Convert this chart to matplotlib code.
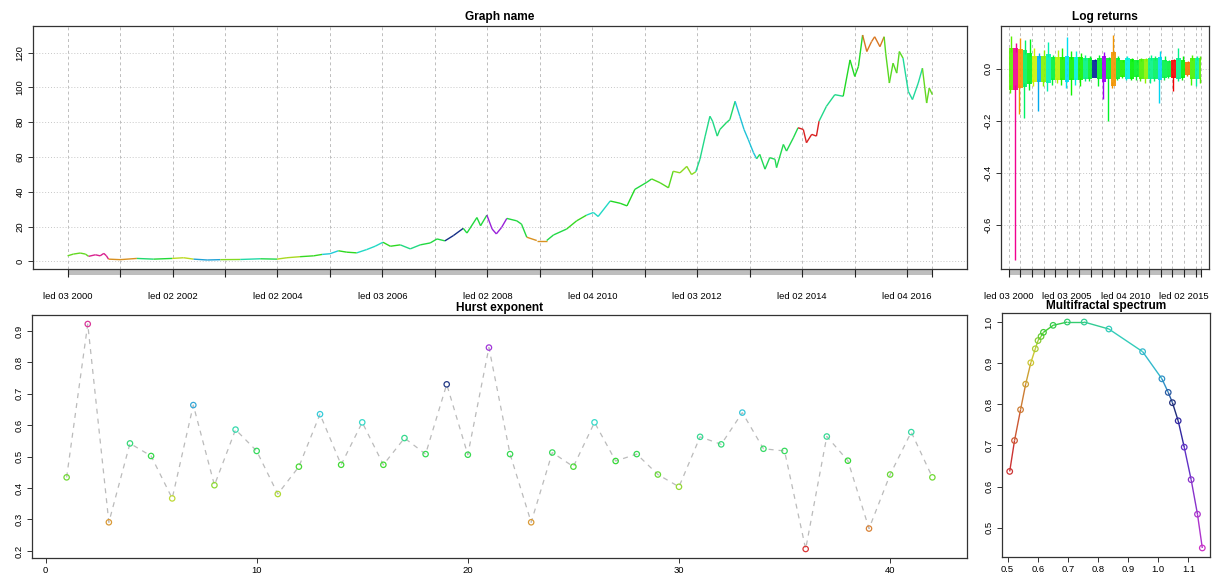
import matplotlib
matplotlib.use("Agg")
import matplotlib.pyplot as plt
import matplotlib.colors as mcolors
import matplotlib.transforms as mtransforms
from matplotlib.collections import LineCollection
import numpy as np

plt.rcParams["font.family"] = ["Liberation Sans", "DejaVu Sans"]

# price path (decimal years, price)
price_t = [2000.00, 2000.11, 2000.24, 2000.34, 2000.40, 2000.53, 2000.62, 2000.69, 2000.74, 2000.78,
           2001.00, 2001.32, 2001.64, 2001.99, 2002.21, 2002.40, 2002.66, 2002.91, 2003.29, 2003.67,
           2003.99, 2004.18, 2004.43, 2004.69, 2004.85, 2005.00, 2005.16, 2005.32, 2005.51, 2005.70,
           2005.86, 2006.01, 2006.15, 2006.34, 2006.53, 2006.72, 2006.91, 2007.04, 2007.19, 2007.35,
           2007.54, 2007.61, 2007.80, 2007.87, 2007.99, 2008.09, 2008.17, 2008.27, 2008.37, 2008.56,
           2008.65, 2008.75, 2008.94, 2009.13, 2009.26, 2009.51, 2009.70, 2009.89, 2010.02, 2010.11,
           2010.34, 2010.53, 2010.66, 2010.81, 2011.04, 2011.13, 2011.29, 2011.45, 2011.54, 2011.67,
           2011.80, 2011.89, 2011.97, 2012.05, 2012.15, 2012.24, 2012.29, 2012.38, 2012.43, 2012.55,
           2012.62, 2012.72, 2012.81, 2012.89, 2012.97, 2013.07, 2013.13, 2013.19, 2013.29, 2013.38,
           2013.48, 2013.51, 2013.64, 2013.70, 2013.83, 2013.92, 2014.02, 2014.08, 2014.18, 2014.27,
           2014.32, 2014.46, 2014.62, 2014.78, 2014.91, 2015.00, 2015.07, 2015.15, 2015.23, 2015.32,
           2015.38, 2015.48, 2015.56, 2015.59, 2015.66, 2015.73, 2015.80, 2015.85, 2015.92, 2016.02,
           2016.10, 2016.21, 2016.29, 2016.37, 2016.42, 2016.48]
price_v = [3.2, 4.2, 4.8, 4.2, 2.9, 3.8, 3.2, 4.6, 3.2, 1.3,
           1.0, 1.7, 1.3, 1.7, 2.1, 1.3, 0.8, 1.0, 1.1, 1.5,
           1.3, 2.1, 2.7, 3.2, 4.0, 4.4, 6.1, 5.3, 4.9, 6.8,
           8.7, 11.0, 8.7, 9.5, 7.2, 9.5, 10.6, 12.9, 11.8, 14.8,
           19.0, 16.3, 25.2, 20.5, 26.6, 18.6, 15.8, 19.5, 24.7, 23.3,
           21.4, 13.9, 12.0, 12.0, 15.2, 18.6, 23.3, 26.6, 28.1, 25.8,
           34.7, 33.4, 31.9, 41.4, 45.5, 47.4, 45.2, 42.3, 51.8, 50.9,
           54.6, 49.9, 51.5, 58.7, 72.0, 83.4, 80.6, 72.0, 75.8, 79.6,
           81.5, 92.0, 83.4, 75.8, 70.1, 62.5, 59.0, 61.5, 53.0, 59.6,
           58.7, 53.9, 67.2, 63.4, 71.0, 76.8, 75.8, 68.2, 73.0, 72.0,
           80.6, 89.1, 95.8, 94.9, 115.8, 106.3, 112.0, 130.1, 120.6, 126.3,
           129.1, 123.4, 129.1, 119.6, 102.5, 113.9, 108.2, 120.6, 116.8, 97.7,
           93.0, 102.5, 111.0, 91.0, 99.6, 95.8]

# hurst exponent per window (42 windows)
hurst = [0.434, 0.922, 0.291, 0.542, 0.502, 0.367, 0.664, 0.409, 0.586, 0.518,
         0.381, 0.468, 0.635, 0.474, 0.609, 0.474, 0.559, 0.508, 0.730, 0.506,
         0.847, 0.508, 0.291, 0.513, 0.468, 0.609, 0.486, 0.508, 0.443, 0.404,
         0.563, 0.539, 0.640, 0.525, 0.518, 0.206, 0.564, 0.487, 0.271, 0.443,
         0.578, 0.434]

# log returns per window: extremes and the dense core half-width
ret_hi = [0.126, 0.098, 0.117, 0.110, 0.113, 0.079, 0.060, 0.072, 0.104, 0.053,
          0.072, 0.079, 0.123, 0.066, 0.066, 0.060, 0.053, 0.047, 0.037, 0.053,
          0.062, 0.044, 0.129, 0.047, 0.034, 0.047, 0.041, 0.034, 0.041, 0.041,
          0.053, 0.047, 0.066, 0.047, 0.034, 0.037, 0.079, 0.047, 0.028, 0.053,
          0.047, 0.047]
ret_lo = [-0.093, -0.733, -0.175, -0.188, -0.080, -0.067, -0.162, -0.067, -0.086, -0.061,
          -0.055, -0.061, -0.074, -0.099, -0.061, -0.067, -0.048, -0.048, -0.029, -0.067,
          -0.118, -0.200, -0.074, -0.042, -0.036, -0.042, -0.042, -0.042, -0.048, -0.055,
          -0.055, -0.048, -0.131, -0.042, -0.036, -0.086, -0.048, -0.042, -0.029, -0.061,
          -0.067, -0.055]
ret_core = [0.080, 0.080, 0.075, 0.070, 0.060, 0.050, 0.050, 0.050, 0.055, 0.045,
            0.045, 0.045, 0.050, 0.045, 0.045, 0.045, 0.040, 0.040, 0.035, 0.040,
            0.050, 0.040, 0.065, 0.040, 0.032, 0.040, 0.038, 0.032, 0.038, 0.038,
            0.040, 0.040, 0.045, 0.035, 0.030, 0.035, 0.040, 0.035, 0.025, 0.040,
            0.040, 0.040]

# multifractal spectrum
mf_alpha = [0.507, 0.523, 0.543, 0.560, 0.577, 0.592, 0.601, 0.611, 0.619, 0.651, 0.698,
            0.754, 0.836, 0.948, 1.012, 1.033, 1.047, 1.066, 1.086, 1.109, 1.130, 1.146]
mf_f = [0.637, 0.712, 0.787, 0.849, 0.901, 0.935, 0.955, 0.965, 0.975, 0.992, 1.000,
        1.000, 0.983, 0.928, 0.862, 0.829, 0.804, 0.760, 0.696, 0.617, 0.533, 0.451]

date_start, date_end = 2000.0, 2016.48
window_years = 0.398  # length of one hurst window, last one is cut by the data end
tick_years = list(range(2000, 2017))
price_labels = {2000: "led 03 2000", 2002: "led 02 2002", 2004: "led 02 2004", 2006: "led 03 2006",
                2008: "led 02 2008", 2010: "led 04 2010", 2012: "led 03 2012", 2014: "led 02 2014",
                2016: "led 04 2016"}
ret_labels = {2000: "led 03 2000", 2005: "led 03 2005", 2010: "led 04 2010", 2015: "led 02 2015"}

TICK_FS = 6.8
TITLE_FS = 8.6
BOX = "#333333"


def rpad(lo, hi):
    d = 0.04 * (hi - lo)
    return lo - d, hi + d


def hsv(hue, s, v):
    # the blues come out darker (navy) in the original
    v = v * (1 - 0.4 * np.exp(-((hue - 0.64) / 0.05) ** 2))
    return mcolors.hsv_to_rgb([hue, s, v])


def h_color(t, s=0.85, v=0.85):
    hue = np.interp(t, [0.0, 0.7, 0.9, 1.0], [0.0, 0.60, 0.78, 0.90])
    return hsv(hue, s, v)


h = np.array(hurst)
ht = (h - h.min()) / (h.max() - h.min())
n_seg = len(hurst)


def style_box(ax):
    for sp in ax.spines.values():
        sp.set_color(BOX)
        sp.set_linewidth(0.9)
    ax.tick_params(labelsize=TICK_FS, length=3.5, width=0.7, pad=2.5, color=BOX)


def time_axis(ax, labels):
    # xts-like grid, grey bar and tick labels under the panel
    ax.set_xticks([])
    marks = tick_years + [date_end]
    for x in marks:
        ax.axvline(x, color="#BDBDBD", lw=0.7, ls=(0, (3, 3)), zorder=0)
    for y in ax.get_yticks():
        ax.axhline(y, color="#C8C8C8", lw=0.7, ls=(0, (1, 2)), zorder=0)
    tr = mtransforms.blended_transform_factory(ax.transData, ax.transAxes)
    ax.add_patch(plt.Rectangle((date_start, -0.025), date_end - date_start, 0.025,
                               transform=tr, clip_on=False, color="#BEBEBE", lw=0))
    ax.vlines(marks, -0.033, 0, transform=tr, clip_on=False, color="#222222", lw=0.8)
    for yr, txt in labels.items():
        ax.text(yr, -0.115, txt, transform=tr, ha="center", va="center", fontsize=TICK_FS)


def rot_yticks(ax):
    plt.setp(ax.get_yticklabels(), rotation=90, va="center")


fig = plt.figure(figsize=(12.12, 5.82), dpi=100)
W, H = 1212, 582


def px_axes(l, t, r, b):
    return fig.add_axes([l / W, (H - b) / H, (r - l) / W, (b - t) / H])


# price panel
ax = px_axes(33, 26, 967, 269)
pts = np.column_stack([price_t, price_v])
segs = np.stack([pts[:-1], pts[1:]], axis=1)
mids = (pts[:-1, 0] + pts[1:, 0]) / 2
idx = np.clip(((mids - date_start) / window_years).astype(int), 0, n_seg - 1)
lc = LineCollection(segs, colors=[h_color(ht[i]) for i in idx], linewidths=1.0)
ax.add_collection(lc)
ax.set_xlim(rpad(date_start, date_end))
ax.set_ylim(rpad(min(price_v), max(price_v)))
ax.set_yticks(range(0, 121, 20))
style_box(ax)
rot_yticks(ax)
time_axis(ax, price_labels)
ax.set_title("Graph name", fontsize=TITLE_FS, fontweight="bold", pad=4)

# log returns panel
ax = px_axes(1001, 26, 1209, 269)
for i in range(n_seg):
    x0 = date_start + i * window_years
    x1 = min(x0 + window_years, date_end)
    c = h_color(ht[i], s=1.0, v=0.95)
    ax.fill_between([x0, x1], [-ret_core[i]] * 2, [ret_core[i]] * 2, color=c, lw=0, alpha=0.9)
    xm = (x0 + x1) / 2
    ax.vlines([xm, x0 + 0.3 * (x1 - x0)], [ret_core[i] * 0.8, ret_lo[i]], [ret_hi[i], -ret_core[i] * 0.8],
              color=c, lw=1.0)
ax.set_xlim(rpad(date_start, date_end))
ax.set_ylim(rpad(min(ret_lo), max(ret_hi)))
ax.set_yticks([0.0, -0.2, -0.4, -0.6])
ax.set_yticklabels(["0.0", "-0.2", "-0.4", "-0.6"])
style_box(ax)
rot_yticks(ax)
time_axis(ax, ret_labels)
ax.set_title("Log returns", fontsize=TITLE_FS, fontweight="bold", pad=4)

# hurst exponent panel
ax = px_axes(32, 315, 967, 558)
xs = np.arange(1, n_seg + 1)
ax.plot(xs, hurst, color="#BBBBBB", lw=0.9, ls=(0, (4, 4)), zorder=1)
ax.scatter(xs, hurst, s=15, facecolors="none",
           edgecolors=[h_color(t, s=0.75, v=0.85) for t in ht], linewidths=0.9, zorder=2)
ax.set_xlim(rpad(1, n_seg))
ax.set_ylim(rpad(min(hurst), max(hurst)))
ax.set_xticks(range(0, 41, 10))
ax.set_yticks([0.2, 0.3, 0.4, 0.5, 0.6, 0.7, 0.8, 0.9])
style_box(ax)
rot_yticks(ax)
ax.set_title("Hurst exponent", fontsize=TITLE_FS, fontweight="bold", pad=3)

# multifractal spectrum panel
ax = px_axes(1002, 313, 1210, 557)
n_mf = len(mf_alpha)
mf_cols = [hsv(0.84 * i / (n_mf - 1), 0.75, 0.8) for i in range(n_mf)]
mpts = np.column_stack([mf_alpha, mf_f])
msegs = np.stack([mpts[:-1], mpts[1:]], axis=1)
ax.add_collection(LineCollection(msegs, colors=mf_cols[:-1], linewidths=1.0))
ax.scatter(mf_alpha, mf_f, s=16, facecolors="none", edgecolors=mf_cols, linewidths=0.9, zorder=3)
ax.set_xlim(rpad(min(mf_alpha), max(mf_alpha)))
ax.set_ylim(rpad(min(mf_f), max(mf_f)))
ax.set_xticks([0.5, 0.6, 0.7, 0.8, 0.9, 1.0, 1.1])
ax.set_yticks([0.5, 0.6, 0.7, 0.8, 0.9, 1.0])
style_box(ax)
rot_yticks(ax)
ax.set_title("Multifractal spectrum", fontsize=TITLE_FS, fontweight="bold", pad=3)

fig.savefig("out.png", dpi=100)
plt.close(fig)
